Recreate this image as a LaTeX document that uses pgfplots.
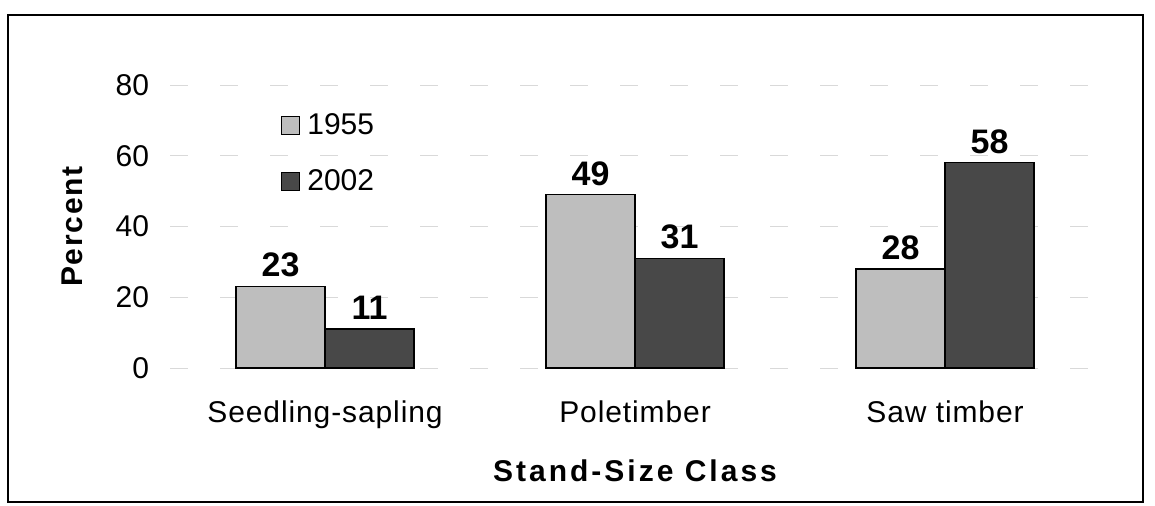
\documentclass[border=0pt]{standalone}
\usepackage{pgfplots}
\pgfplotsset{compat=1.18}
\usepackage{fontspec}
\setmainfont{Liberation Sans}
\newfontfamily\lsA[LetterSpace=6]{Liberation Sans}
\newfontfamily\lsB[LetterSpace=10]{Liberation Sans}
\newfontfamily\lsC[LetterSpace=3]{Liberation Sans}
\definecolor{barlight}{RGB}{190,190,190}
\definecolor{bardark}{RGB}{72,72,72}
\begin{document}
\begin{tikzpicture}
\begin{axis}[
  scale only axis, width=465pt, height=141.5pt,
  ybar=0pt, bar width=44.5pt,
  xmin=-0.5, xmax=2.5, ymin=0, ymax=80,
  xtick={0,1,2},
  xticklabels={Seedling-sapling, Poletimber, Saw timber},
  ytick={0,20,40,60,80},
  axis line style={draw=none},
  major tick length=0pt,
  ymajorgrids,
  grid style={gray!30, dash pattern=on 9pt off 16pt, line width=0.5pt},
  tick label style={font=\fontsize{15}{18}\selectfont},
  /pgf/number format/assume math mode=true,
  xticklabel style={yshift=-13pt, font=\lsC\fontsize{15}{18}\selectfont},
  yticklabel style={xshift=-7pt},
  xlabel={Stand-Size Class},
  xlabel style={at={(axis description cs:0.5,-0.364)}, anchor=center, font=\lsB\bfseries\fontsize{15}{18}\selectfont},
  ylabel={Percent},
  ylabel style={at={(axis description cs:-0.1054,0.5)}, anchor=center, font=\lsA\bfseries\fontsize{15}{18}\selectfont},
  legend style={at={(rel axis cs:0.112,0.93)}, anchor=north west, draw=none, fill=none,
    font=\fontsize{15}{18}\selectfont, row sep=12pt, column sep=2pt},
  legend cell align=left,
  legend image code/.code={\draw[#1, draw=black, line width=0.4pt] (0pt,-4.5pt) rectangle (9pt,4.5pt);},
  nodes near coords,
  nodes near coords style={font=\bfseries\fontsize{17}{20}\selectfont, yshift=1pt},
  clip=false,
]
\addplot[fill=barlight, draw=black, line width=0.6pt] coordinates {(0,23) (1,49) (2,28)};
\addplot[fill=bardark, draw=black, line width=0.6pt] coordinates {(0,11) (1,31) (2,58)};
\legend{1955, 2002}
\draw[line width=1pt] (rel axis cs:-0.1742,-0.4735) rectangle (rel axis cs:1.0462,1.2473);
\coordinate (bbl) at (rel axis cs:-0.1828,-0.4876);
\coordinate (btr) at (rel axis cs:1.0591,1.3004);
\end{axis}
\pgfresetboundingbox
\path[use as bounding box] (bbl) rectangle (btr);
\end{tikzpicture}
\end{document}
